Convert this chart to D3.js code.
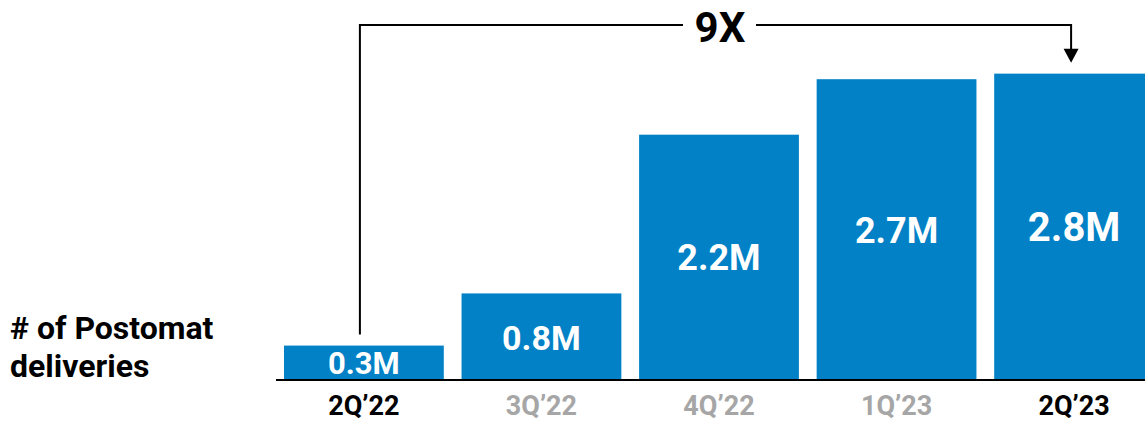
<!DOCTYPE html>
<html>
<head>
<meta charset="utf-8">
<script src="https://cdn.jsdelivr.net/npm/d3@7"></script>
<style>
  body { margin: 0; background: #fff; }
  svg text { font-family: Roboto, "Noto Sans", sans-serif; font-weight: 700; }
</style>
</head>
<body>
<svg id="chart" width="1145" height="422"></svg>
<script>
var width = 1145,
    height = 422;

// data (millions of deliveries)
const quarters = ["2Q\u201922", "3Q\u201922", "4Q\u201922", "1Q\u201923", "2Q\u201923"];
const deliveries = [0.31, 0.78, 2.21, 2.71, 2.76];
const valueLabels = ["0.3M", "0.8M", "2.2M", "2.7M", "2.8M"];
const highlighted = ["2Q\u201922", "2Q\u201923"];
const growthLabel = "9X";
const axisTitle = ["# of Postomat", "deliveries"];

// styles
const barColor = "#0281c6";
const labelFontSizes = [31, 34, 36, 36, 40];
const baseY = 380;

var svg = d3.select("#chart");

var x = d3.scaleBand()
    .domain(quarters)
    .range([284, 1154])
    .paddingInner(0.1)
    .paddingOuter(0);

var y = d3.scaleLinear()
    .domain([0, 3])
    .range([baseY, baseY - 333]);

var rows = quarters.map(function (q, i) {
    return { q: q, v: deliveries[i], label: valueLabels[i], size: labelFontSizes[i] };
});

// bars
svg.append("g")
    .selectAll("rect")
    .data(rows)
    .join("rect")
    .attr("x", function (d) { return x(d.q); })
    .attr("y", function (d) { return y(d.v); })
    .attr("width", x.bandwidth())
    .attr("height", function (d) { return baseY - y(d.v); })
    .attr("fill", barColor);

// value labels inside bars
svg.append("g")
    .selectAll("text")
    .data(rows)
    .join("text")
    .attr("x", function (d) { return x(d.q) + x.bandwidth() / 2; })
    .attr("y", function (d) { return (y(d.v) + baseY) / 2 + 1; })
    .attr("text-anchor", "middle")
    .attr("dominant-baseline", "central")
    .attr("fill", "#fff")
    .attr("font-size", function (d) { return d.size; })
    .text(function (d) { return d.label; });

// baseline
svg.append("line")
    .attr("x1", 276).attr("x2", width)
    .attr("y1", baseY).attr("y2", baseY)
    .attr("stroke", "#000")
    .attr("stroke-width", 2);

// category labels
svg.append("g")
    .selectAll("text")
    .data(quarters)
    .join("text")
    .attr("x", function (d) { return x(d) + x.bandwidth() / 2; })
    .attr("y", 415)
    .attr("text-anchor", "middle")
    .attr("font-size", 27)
    .attr("fill", function (d) { return highlighted.includes(d) ? "#000" : "#a6a6a6"; })
    .text(function (d) { return d; });

// axis title
svg.append("text")
    .attr("x", 10)
    .attr("y", 339)
    .attr("font-size", 32)
    .attr("fill", "#000")
    .selectAll("tspan")
    .data(axisTitle)
    .join("tspan")
    .attr("x", 10)
    .attr("dy", function (d, i) { return i === 0 ? 0 : 38; })
    .text(function (d) { return d; });

// growth bracket
const bracketY = 25;
var first = rows[0], last = rows[rows.length - 1];
var x0 = x(first.q) + x.bandwidth() / 2 - 4;
var x1 = x(last.q) + x.bandwidth() / 2 - 3;
var labelX = 720;

svg.append("path")
    .attr("d", "M" + x0 + "," + (y(first.v) - 11) + "V" + bracketY + "H" + (labelX - 37))
    .attr("fill", "none")
    .attr("stroke", "#000")
    .attr("stroke-width", 2);

var tipY = y(last.v) - 11;
svg.append("path")
    .attr("d", "M" + (labelX + 36) + "," + bracketY + "H" + x1 + "V" + (tipY - 12))
    .attr("fill", "none")
    .attr("stroke", "#000")
    .attr("stroke-width", 2);

svg.append("path")
    .attr("d", "M" + (x1 - 7.5) + "," + (tipY - 14) + "L" + (x1 + 7.5) + "," + (tipY - 14) + "L" + x1 + "," + tipY + "Z")
    .attr("fill", "#000");

svg.append("text")
    .attr("x", labelX)
    .attr("y", 42)
    .attr("text-anchor", "middle")
    .attr("font-size", 42)
    .attr("fill", "#000")
    .text(growthLabel);
</script>
</body>
</html>
